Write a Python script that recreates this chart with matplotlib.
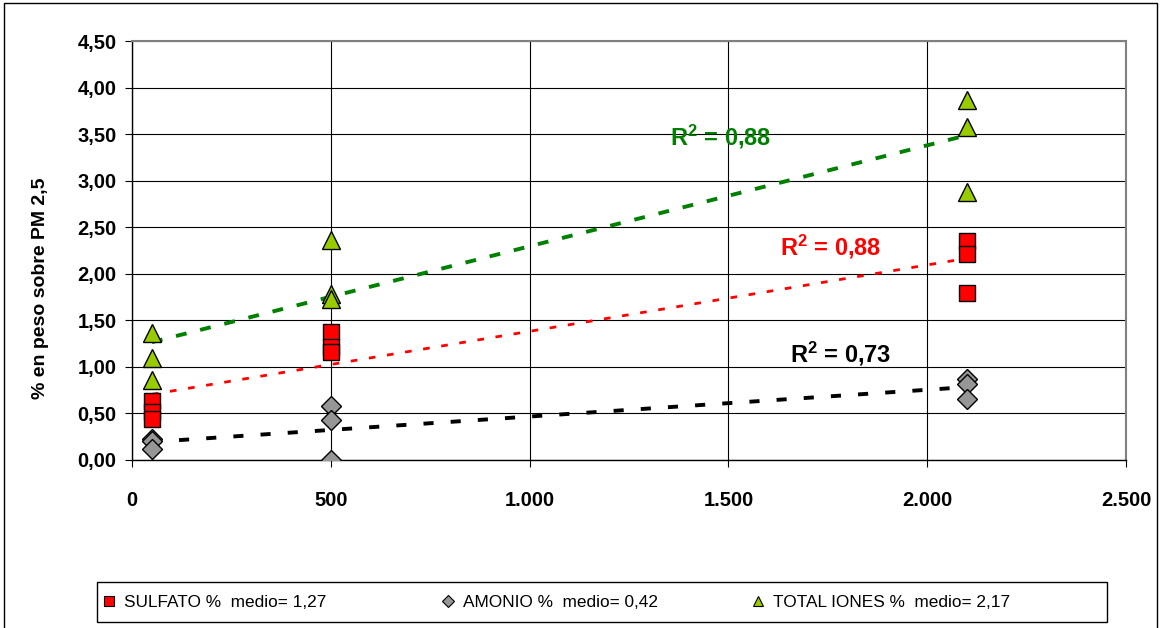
import numpy as np
import matplotlib
matplotlib.use("Agg")
import matplotlib.pyplot as plt
from matplotlib.lines import Line2D
from matplotlib.patches import Rectangle
from matplotlib.ticker import FuncFormatter, MultipleLocator

plt.rcParams['font.family'] = ['Liberation Sans', 'DejaVu Sans']
plt.rcParams['mathtext.fontset'] = 'custom'
plt.rcParams['mathtext.rm'] = 'Liberation Sans'
plt.rcParams['mathtext.bf'] = 'Liberation Sans:bold'

# data
x_sulf = [50, 50, 50, 500, 500, 500, 2100, 2100, 2100]
sulfato = [0.63, 0.52, 0.44, 1.38, 1.21, 1.16, 2.35, 2.21, 1.79]
x_amon = [50, 50, 50, 500, 500, 500, 2100, 2100, 2100]
amonio = [0.23, 0.20, 0.12, 0.58, 0.43, 0.00, 0.87, 0.82, 0.65]
x_tot = [50, 50, 50, 500, 500, 500, 2100, 2100, 2100]
total = [1.36, 1.10, 0.86, 2.36, 1.78, 1.73, 3.87, 3.58, 2.88]

labels = ["SULFATO %  medio= 1,27", "AMONIO %  medio= 0,42",
          "TOTAL IONES %  medio= 2,17"]
r2_text = ["0,88", "0,73", "0,88"]  # sulfato, amonio, total
r2_pos = [(1630, 2.29), (1655, 1.14), (1353, 3.47)]

W, H = 1162, 628
fig = plt.figure(figsize=(W/100, H/100), dpi=100)
ax = fig.add_axes([132/W, 1-460/H, (1126-132)/W, (460-41)/H])

# linear trend lines
def trend(xs, ys):
    k, b = np.polyfit(xs, ys, 1)
    xx = np.array([min(xs), max(xs)])
    return xx, k*xx + b

xx, yy = trend(x_tot, total)
ax.plot(xx, yy, color='#008000', lw=2.8, dashes=(2.8, 3.6), zorder=3)
xx, yy = trend(x_sulf, sulfato)
ax.plot(xx, yy, color='#FF0000', lw=2.0, dashes=(2.4, 4.2), zorder=3)
xx, yy = trend(x_amon, amonio)
ax.plot(xx, yy, color='black', lw=2.8, dashes=(2.6, 4.4), zorder=3)

ax.plot(x_amon, amonio, 'D', ms=10, mfc='#969696', mec='black', mew=1.0, ls='none', zorder=4)
ax.plot(x_sulf, sulfato, 's', ms=11, mfc='#FF0000', mec='black', mew=1.0, ls='none', zorder=5)
ax.plot(x_tot, total, '^', ms=12.5, mfc='#99CC00', mec='black', mew=1.0, ls='none', zorder=6)

ax.set_xlim(0, 2500)
ax.set_ylim(0, 4.5)
ax.xaxis.set_major_locator(MultipleLocator(500))
ax.yaxis.set_major_locator(MultipleLocator(0.5))
ax.xaxis.set_major_formatter(FuncFormatter(lambda v, p: f"{int(v):,}".replace(',', '.')))
ax.yaxis.set_major_formatter(FuncFormatter(lambda v, p: f"{v:.2f}".replace('.', ',')))
ax.grid(True, color='black', lw=0.8)
ax.set_axisbelow(True)
ax.tick_params(axis='both', direction='out', length=5, width=0.8, labelsize=14.5)
ax.tick_params(axis='x', pad=17)
ax.tick_params(axis='y', pad=6)
for lab in ax.get_xticklabels() + ax.get_yticklabels():
    lab.set_fontweight('bold')
for s in ['left', 'bottom']:
    ax.spines[s].set_color('black')
    ax.spines[s].set_linewidth(1.0)
for s in ['top', 'right']:
    ax.spines[s].set_color('#808080')
    ax.spines[s].set_linewidth(1.5)

ax.set_ylabel("% en peso sobre PM 2,5", fontsize=14, fontweight='bold')
ax.yaxis.set_label_coords(-0.092, 0.41)
ax.yaxis.label.set_va('center')

cols = ['#FF0000', 'black', '#008000']
for txt, (tx, ty), c in zip(r2_text, r2_pos, cols):
    ax.text(tx, ty, r"$\mathbf{R^2}$ = " + txt, color=c, fontsize=17,
            fontweight='bold', va='center', ha='left', zorder=7)

# legend: box plus one entry per series at Excel-like positions
handles = [
    Line2D([], [], marker='s', ls='none', mfc='#FF0000', mec='black', mew=0.8, ms=6.5),
    Line2D([], [], marker='D', ls='none', mfc='#969696', mec='black', mew=0.8, ms=6),
    Line2D([], [], marker='^', ls='none', mfc='#99CC00', mec='black', mew=0.8, ms=7),
]
fig.patches.append(Rectangle((97/W, 1-622/H), (1107-97)/W, 40/H,
                             transform=fig.transFigure, fill=False,
                             edgecolor='black', lw=1.0))
for h, lab, px in zip(handles, labels, [103, 442, 752]):
    fig.legend([h], [lab], loc='center left', bbox_to_anchor=(px/W, 1-602/H),
               prop={'size': 12.4}, frameon=False, handlelength=0.7,
               handletextpad=0.5, borderpad=0, borderaxespad=0)

fig.patches.append(Rectangle((4/W, -0.02), 1153/W, 1.02-3/H,
                             transform=fig.transFigure, fill=False,
                             edgecolor='black', lw=1.0))

fig.savefig("out.png", dpi=100)
